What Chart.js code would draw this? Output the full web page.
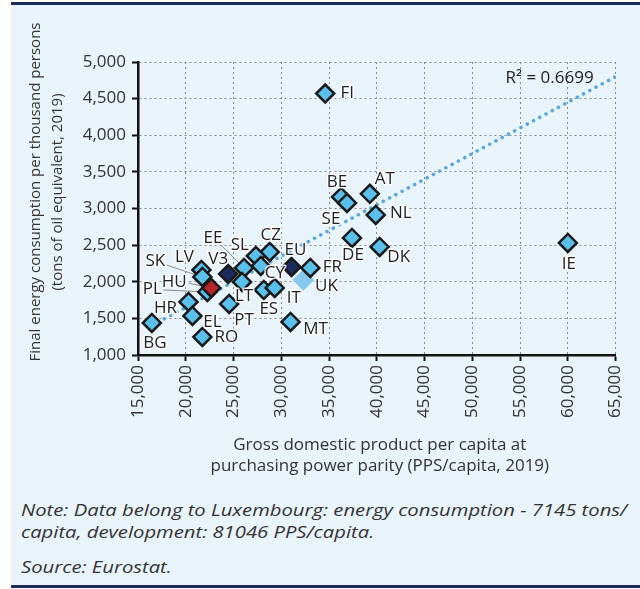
<!DOCTYPE html>
<html>
<head>
<meta charset="utf-8">
<script src="https://cdn.jsdelivr.net/npm/chart.js@4.4.1/dist/chart.umd.min.js"></script>
<style>
  body { margin: 0; background: #fff; font-family: 'Open Sans', sans-serif; }
  #panel {
    position: absolute; left: 11px; top: 2px; width: 629px; height: 580px;
    background: #e8f3fa;
    border-top: 3px solid #1d2b5a; border-bottom: 3px solid #1d2b5a;
  }
  #chart-wrap { position: absolute; left: -1px; top: 0; }
  .note {
    position: absolute; left: 10px; font-style: italic; font-size: 17px; line-height: 22px; color: #333;
    white-space: nowrap; transform: scaleX(1.19); transform-origin: left top;
  }
</style>
</head>
<body>
<div id="panel">
  <div id="chart-wrap"><canvas id="energy-chart" width="630" height="470"></canvas></div>
  <div class="note" style="top:494px">Note: Data belong to Luxembourg: energy consumption - 7145 tons/<br>capita, development: 81046 PPS/capita.</div>
  <div class="note" style="top:551px">Source: Eurostat.</div>
</div>
<script>
// Adatok (leolvasva az ábráról)
const countries = ['UK', 'BE', 'SE', 'AT', 'NL', 'DE', 'DK', 'IE', 'FI', 'FR', 'EU', 'CZ', 'SL', 'CY', 'EE',
                   'LT', 'V3', 'LV', 'SK', 'PL', 'HU', 'HR', 'EL', 'RO', 'BG', 'PT', 'ES', 'IT', 'MT'];
const gdpPps = [32320, 36260, 36880, 39270, 39890, 37400, 40300, 60000, 34600, 33040, 31070, 28790, 27340, 27860, 26100,
                25890, 24440, 21640, 21740, 22260, 22670, 20290, 20700, 21740, 16450, 24540, 28170, 29310, 30970];
const energyUse = [2025, 3158, 3076, 3200, 2912, 2598, 2475, 2530, 4570, 2188, 2202, 2407, 2352, 2216, 2188,
                   1997, 2106, 2161, 2065, 1861, 1915, 1724, 1533, 1246, 1437, 1697, 1888, 1915, 1451];

const xTicks = [15000, 20000, 25000, 30000, 35000, 40000, 45000, 50000, 55000, 60000, 65000];
const yTicks = [1000, 1500, 2000, 2500, 3000, 3500, 4000, 4500, 5000];

// Trendvonal (lineáris, R² = 0.6699)
const trendSlope = 0.07;
const trendIntercept = 250;
const trendRange = [16450, 65000];
const rSquared = '0.6699';

// Stílusok
const pointFill = '#5bbfec';
const specialFill = { HU: '#b5252b', EU: '#1b2c5c', V3: '#1b2c5c', UK: '#86c8ec' };
const specialBorder = { UK: '#86c8ec' };

// Címkék helye a ponthoz képest (px)
const labelOffsets = {
  FI: [22, 0], BE: [-4, -15], SE: [-16, 16], AT: [15, -15], NL: [25, -2], DE: [1, 17], DK: [19, 10],
  IE: [1, 21], FR: [22, -1], UK: [23, 6], EU: [4, -17], CZ: [1, -17], SL: [-16, -11], EE: [-31, -30],
  LV: [-17, -13], SK: [-47, -16], V3: [-10, -15], HU: [-37, -6], PL: [-55, -3], CY: [14, 7],
  LT: [2, 14], HR: [-23, 6], IT: [19, 10], ES: [5, 19], EL: [20, 6], PT: [15, 16], MT: [25, 7],
  RO: [24, 0], BG: [3, 20]
};
const leaderStart = { SK: [11, 4], HU: [14, 1], PL: [11, 1], EE: [8, 7] };

const scatterData = countries.map(function(c, i) {
  return { x: gdpPps[i], y: energyUse[i] };
});
const trendData = trendRange.map(function(x) {
  return { x: x, y: trendSlope * x + trendIntercept };
});

const labelPlugin = {
  id: 'pointLabels',
  beforeDatasetsDraw(chart) {
    const ctx = chart.ctx;
    const meta = chart.getDatasetMeta(0);
    ctx.save();
    ctx.strokeStyle = '#8c8c8c';
    ctx.lineWidth = 1;
    countries.forEach(function(c, i) {
      if (!leaderStart[c]) return;
      const p = meta.data[i];
      const off = labelOffsets[c];
      ctx.beginPath();
      ctx.moveTo(p.x + off[0] + leaderStart[c][0], p.y + off[1] + leaderStart[c][1]);
      ctx.lineTo(p.x, p.y);
      ctx.stroke();
    });
    ctx.restore();
  },
  afterDatasetsDraw(chart) {
    const ctx = chart.ctx;
    const meta = chart.getDatasetMeta(0);
    ctx.save();
    ctx.font = '17px "Open Sans"';
    ctx.textAlign = 'center';
    ctx.textBaseline = 'middle';
    ctx.lineJoin = 'round';
    countries.forEach(function(c, i) {
      const p = meta.data[i];
      const off = labelOffsets[c] || [0, -15];
      ctx.strokeStyle = 'rgba(255,255,255,0.85)';
      ctx.lineWidth = 3;
      ctx.strokeText(c, p.x + off[0], p.y + off[1]);
      ctx.fillStyle = '#222';
      ctx.fillText(c, p.x + off[0], p.y + off[1]);
    });
    // R² felirat
    const area = chart.chartArea;
    ctx.textAlign = 'right';
    ctx.fillStyle = '#222';
    ctx.fillText('R\u00b2 = ' + rSquared, area.right - 22, area.top + 16);
    ctx.restore();
  },
  afterDraw(chart) {
    const ctx = chart.ctx;
    const area = chart.chartArea;
    ctx.save();
    ctx.fillStyle = '#333';
    ctx.font = '17px "Open Sans"';
    ctx.textAlign = 'center';
    ctx.textBaseline = 'middle';
    // x tengely címe
    const cx = (area.left + area.right) / 2 + 3;
    ctx.fillText('Gross domestic product per capita at', cx, 440);
    ctx.fillText('purchasing power parity (PPS/capita, 2019)', cx, 461);
    // y tengely címe
    ctx.font = '15px "Open Sans"';
    ctx.translate(26, 187);
    ctx.rotate(-Math.PI / 2);
    ctx.fillText('Final energy consumption per thousand persons', 0, 0);
    ctx.fillText('(tons of oil equivalent, 2019)', 0, 22);
    ctx.restore();
  }
};

const ctx = document.getElementById('energy-chart');
const energyChart = new Chart(ctx, {
  type: 'scatter',
  data: {
    datasets: [{
      label: 'Countries',
      data: scatterData,
      pointStyle: 'rectRot',
      pointRadius: 9,
      pointHoverRadius: 9,
      backgroundColor: countries.map(function(c) { return specialFill[c] || pointFill; }),
      borderColor: countries.map(function(c) { return specialBorder[c] || '#1a1a1a'; }),
      borderWidth: 2.5,
      order: 1
    }, {
      type: 'line',
      label: 'Trend',
      data: trendData,
      borderColor: '#5aa7db',
      borderWidth: 3.5,
      borderDash: [0.1, 7],
      borderCapStyle: 'round',
      pointRadius: 0,
      fill: false,
      order: 2
    }]
  },
  options: {
    responsive: false,
    animation: false,
    events: [],
    layout: { padding: { top: 57, right: 20, left: 0, bottom: 0 } },
    plugins: { legend: { display: false }, tooltip: { enabled: false } },
    scales: {
      x: {
        type: 'linear',
        min: xTicks[0],
        max: xTicks[xTicks.length - 1],
        afterFit: function(scale) { scale.height = 120; },
        afterBuildTicks: function(scale) { scale.ticks = xTicks.map(function(v) { return { value: v }; }); },
        ticks: {
          minRotation: 90, maxRotation: 90, padding: 4, color: '#333',
          font: { family: 'Open Sans', size: 17 },
          callback: function(v) { return v.toLocaleString('en-US'); }
        },
        grid: { color: '#8a8a8a', lineWidth: 1, tickColor: '#111', tickLength: 6, tickWidth: 2 },
        border: { color: '#111', width: 2.5, dash: [2, 3] }
      },
      y: {
        type: 'linear',
        min: yTicks[0],
        max: yTicks[yTicks.length - 1],
        afterFit: function(scale) { scale.width = 128; },
        afterBuildTicks: function(scale) { scale.ticks = yTicks.map(function(v) { return { value: v }; }); },
        ticks: {
          padding: 6, color: '#333',
          font: { family: 'Open Sans', size: 17 },
          callback: function(v) { return v.toLocaleString('en-US'); }
        },
        grid: { color: '#8a8a8a', lineWidth: 1, tickColor: '#111', tickLength: 6, tickWidth: 2 },
        border: { color: '#111', width: 2.5, dash: [2, 3] }
      }
    }
  },
  plugins: [labelPlugin]
});
</script>
</body>
</html>
